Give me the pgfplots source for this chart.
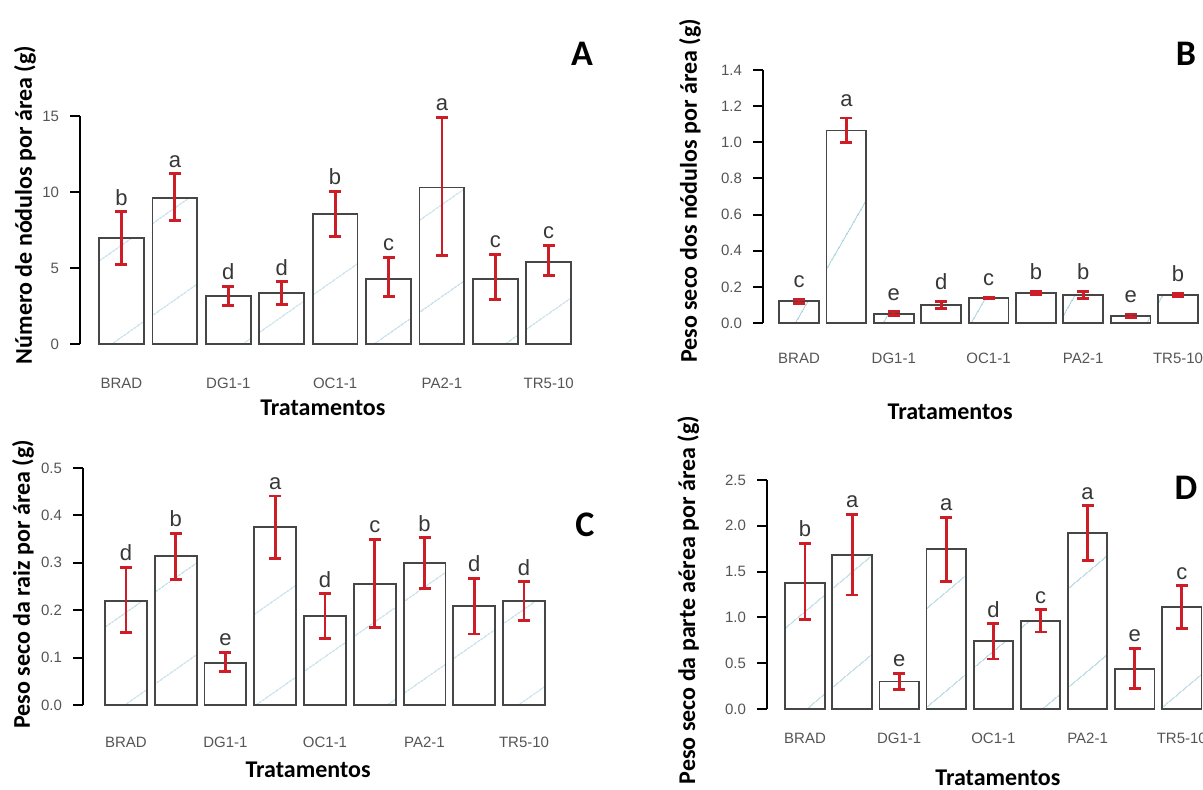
\documentclass[border=0pt]{standalone}
\usepackage{pgfplots}
\pgfplotsset{compat=1.18}
\usepackage{pgfplotstable}
\usetikzlibrary{patterns.meta}
\usepackage{fontspec}
\setmainfont{Carlito}
\newfontfamily\arialf{Liberation Sans}
\newcommand\tickfont{\arialf\fontsize{7.5}{9}\selectfont}
\newcommand\letfont{\arialf\fontsize{11}{13}\selectfont}
\newcommand\labfont{\bfseries\fontsize{12}{14}\selectfont}
\newcommand\panfont{\bfseries\fontsize{18}{20}\selectfont}

\definecolor{errred}{RGB}{205,30,40}
\definecolor{bargrey}{RGB}{70,70,70}
\definecolor{tickgrey}{RGB}{85,85,85}
\definecolor{letgrey}{RGB}{55,55,55}
\definecolor{hatch}{RGB}{160,205,218}

% A: numero de nodulos
\pgfplotstableread{
x y ep em lab
1 7.0 1.7 1.75 b
2 9.6 1.6 1.45 a
3 3.15 0.65 0.6 d
4 3.35 0.75 0.75 d
5 8.55 1.5 1.5 b
6 4.3 1.4 1.15 c
7 10.3 4.6 4.5 a
8 4.3 1.6 1.35 c
9 5.4 1.1 0.9 c
}\tabA
% B: peso seco dos nodulos
\pgfplotstableread{
x y ep em lab
1 0.12 0.01 0.01 c
2 1.065 0.07 0.065 a
3 0.052 0.01 0.01 e
4 0.10 0.02 0.02 d
5 0.138 0.005 0.005 c
6 0.166 0.01 0.01 b
7 0.156 0.02 0.02 b
8 0.04 0.01 0.01 e
9 0.155 0.008 0.008 b
}\tabB
% C: peso seco da raiz
\pgfplotstableread{
x y ep em lab
1 0.22 0.07 0.067 d
2 0.315 0.047 0.05 b
3 0.088 0.023 0.018 e
4 0.375 0.066 0.066 a
5 0.188 0.047 0.048 d
6 0.255 0.095 0.092 c
7 0.30 0.053 0.054 b
8 0.209 0.058 0.059 d
9 0.219 0.041 0.04 d
}\tabC
% D: peso seco da parte aerea
\pgfplotstableread{
x y ep em lab
1 1.38 0.43 0.40 b
2 1.68 0.445 0.435 a
3 0.30 0.09 0.085 e
4 1.745 0.35 0.35 a
5 0.74 0.19 0.195 d
6 0.965 0.12 0.125 c
7 1.92 0.3 0.3 a
8 0.44 0.22 0.22 e
9 1.11 0.235 0.23 c
}\tabD

\pgfplotsset{
  panel/.style={
    scale only axis, clip=false, anchor=south west,
    enlargelimits=false, ymin=0,
    axis y line*=left, axis x line*=bottom,
    x axis line style={draw=none},
    y axis line style={line width=1.2pt, black},
    xtick={1,3,5,7,9},
    xticklabels={BRAD,DG1-1,OC1-1,PA2-1,TR5-10},
    xtick style={draw=none},
    ytick style={line width=1pt, black},
    tick align=outside, major tick length=5pt,
    ticklabel style={font=\tickfont, text=tickgrey},
    yticklabel style={xshift=-2pt},
    label style={font=\labfont},
    /pgf/number format/assume math mode=true,
  },
  onedec/.style={yticklabel style={/pgf/number format/.cd, fixed, fixed zerofill, precision=1}},
  bars/.style={ybar, bar width=0.84, draw=bargrey, line width=0.9pt,
    pattern={Lines[angle=#1, distance=38pt, line width=0.5pt]}, pattern color=hatch,
    error bars/.cd, y dir=both, y explicit,
    error bar style={draw=errred, line width=1.4pt},
    error mark options={rotate=90, draw=errred, line width=1.4pt, mark size=3pt}},
  letters/.style={draw=none, mark=none, nodes near coords, point meta=explicit symbolic,
    nodes near coords style={font=\letfont, text=letgrey, anchor=south, inner sep=0pt, yshift=#1}},
}

\begin{document}
\begin{tikzpicture}
\useasboundingbox (0,0) rectangle (601.5pt,-394.5pt);
\clip (0,0) rectangle (601.5pt,-394.5pt);

% Panel A
\begin{axis}[panel, at={(40pt,-172pt)}, width=255.1pt, height=114pt,
  xmin=0.223, xmax=9.777, ymax=15, ytick={0,5,10,15},
  xticklabel style={anchor=center, yshift=-14.5pt},
  xlabel={Tratamentos}, xlabel style={at={(axis description cs:0.476,-0.281)}, anchor=center},
  ylabel={Número de nódulos por área (g)}, ylabel style={at={(axis description cs:-0.108,0.61)}, anchor=center}]
  \addplot[bars=35] table[x=x, y=y, y error plus=ep, y error minus=em] \tabA;
  \addplot[letters=3pt] table[x=x, y expr=\thisrow{y}+\thisrow{ep}, meta=lab] \tabA;
  \node[font=\panfont] at (axis description cs:0.984,1.272) {A};
\end{axis}

% Panel B
\begin{axis}[panel, onedec, at={(381.5pt,-161.5pt)}, width=225.5pt, height=126.5pt,
  xmin=0.24, xmax=9.76, ymax=1.4, ytick={0,0.2,...,1.4},
  xticklabel style={anchor=center, yshift=-12.5pt},
  xlabel={Tratamentos}, xlabel style={at={(axis description cs:0.415,-0.352)}, anchor=center},
  ylabel={Peso seco dos nódulos por área (g)}, ylabel style={at={(axis description cs:-0.162,0.522)}, anchor=center}]
  \addplot[bars=60] table[x=x, y=y, y error plus=ep, y error minus=em] \tabB;
  \addplot[letters=5.5pt] table[x=x, y expr=\thisrow{y}+\thisrow{ep}, meta=lab] \tabB;
  \node[font=\panfont] at (axis description cs:0.938,1.063) {B};
\end{axis}

% Panel C
\begin{axis}[panel, onedec, at={(41.5pt,-352.5pt)}, width=242pt, height=118.5pt,
  xmin=0.136, xmax=9.864, ymax=0.5, ytick={0,0.1,...,0.5},
  xticklabel style={anchor=center, yshift=-13.5pt},
  xlabel={Tratamentos}, xlabel style={at={(axis description cs:0.465,-0.274)}, anchor=center},
  ylabel={Peso seco da raiz por área (g)}, ylabel style={at={(axis description cs:-0.124,0.51)}, anchor=center}]
  \addplot[bars=35] table[x=x, y=y, y error plus=ep, y error minus=em] \tabC;
  \addplot[letters=3pt] table[x=x, y expr=\thisrow{y}+\thisrow{ep}, meta=lab] \tabC;
  \node[font=\panfont] at (axis description cs:1.037,0.76) {C};
\end{axis}

% Panel D
\begin{axis}[panel, onedec, at={(383.5pt,-354.5pt)}, width=226.4pt, height=114.5pt,
  xmin=0.193, xmax=9.807, ymax=2.5, ytick={0,0.5,...,2.5},
  xticklabel style={anchor=center, yshift=-9.5pt},
  xlabel={Tratamentos}, xlabel style={at={(axis description cs:0.51,-0.301)}, anchor=center},
  ylabel={Peso seco da parte aérea por área (g)}, ylabel style={at={(axis description cs:-0.174,0.476)}, anchor=center}]
  \addplot[bars=40] table[x=x, y=y, y error plus=ep, y error minus=em] \tabD;
  \addplot[letters=3pt] table[x=x, y expr=\thisrow{y}+\thisrow{ep}, meta=lab] \tabD;
  \node[font=\panfont] at (axis description cs:0.925,0.965) {D};
\end{axis}
\end{tikzpicture}
\end{document}
